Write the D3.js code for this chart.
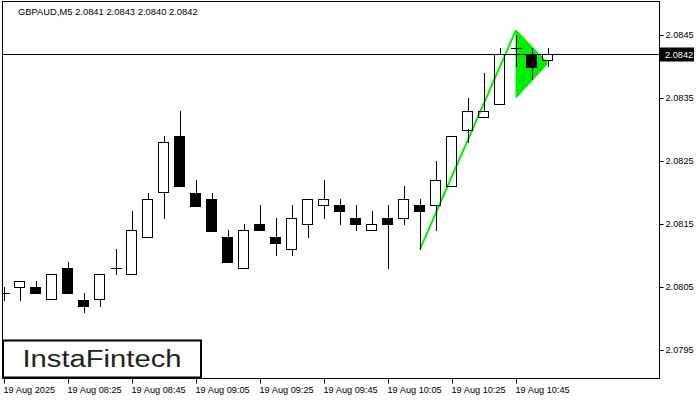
<!DOCTYPE html>
<html>
<head>
<meta charset="utf-8">
<script src="https://cdn.jsdelivr.net/npm/d3@7"></script>
<style>
  html, body { margin: 0; padding: 0; background: #fff; }
  svg { display: block; }
  text { font-family: "Liberation Sans", Arial, sans-serif; }
</style>
</head>
<body>
<svg id="chart" width="700" height="400"></svg>
<script>
// ---- data ----
const title = "GBPAUD,M5  2.0841 2.0843 2.0840 2.0842";
const opens  = [2.0804,2.0805,2.0805,2.0803,2.0808,2.0803,2.0803,2.0808,2.0807,2.0813,2.0820,2.0829,2.0820,2.0819,2.0813,2.0808,2.0815,2.0813,2.0811,2.0815,2.0818,2.0818,2.0816,2.0814,2.0816,2.0816,2.0818,2.0818,2.0821,2.0830,2.0832,2.0834,2.0843,2.0842,2.0841];
const highs  = [2.0805,2.0806,2.0806,2.0807,2.0809,2.0804,2.0807,2.0811,2.0817,2.0820,2.0829,2.0833,2.0822,2.0820,2.0814,2.0815,2.0818,2.0816,2.0818,2.0819,2.0822,2.0819,2.0818,2.0817,2.0818,2.0821,2.0819,2.0825,2.0829,2.0835,2.0839,2.0843,2.0845,2.0843,2.0843];
const lows   = [2.0803,2.0803,2.0804,2.0803,2.0804,2.0801,2.0802,2.0807,2.0807,2.0813,2.0816,2.0821,2.0818,2.0814,2.0809,2.0808,2.0814,2.0810,2.0810,2.0813,2.0816,2.0815,2.0814,2.0814,2.0808,2.0815,2.0811,2.0814,2.0821,2.0828,2.0832,2.0834,2.0840,2.0838,2.0840];
const closes = [2.0804,2.0806,2.0804,2.0807,2.0804,2.0802,2.0807,2.0808,2.0814,2.0819,2.0828,2.0821,2.0818,2.0814,2.0809,2.0814,2.0814,2.0812,2.0816,2.0819,2.0819,2.0817,2.0815,2.0815,2.0815,2.0819,2.0817,2.0822,2.0829,2.0833,2.0833,2.0842,2.0843,2.0840,2.0842];
const yTickValues = [2.0795, 2.0805, 2.0815, 2.0825, 2.0835, 2.0845];
const xTickIndex  = [0, 4, 8, 12, 16, 20, 24, 28, 32];
const xTickLabels = ["19 Aug 2025","19 Aug 08:25","19 Aug 08:45","19 Aug 09:05","19 Aug 09:25","19 Aug 09:45","19 Aug 10:05","19 Aug 10:25","19 Aug 10:45"];
const currentPrice = 2.0842;
// pennant pattern: pole and triangle (bar index, price)
const poleIdx    = [26, 32];
const polePrice  = [2.0811, 2.08458];
const triIdx     = [32, 32, 34];
const triPrice   = [2.08458, 2.0835, 2.08405];
const logoText = "InstaFintech";

// ---- layout ----
const svg = d3.select("#chart");
const plot = {left: 2.5, top: 1.5, right: 659.5, bottom: 378.5};

const x = d3.scaleLinear().domain([0, 34]).range([3.5, 3.5 + 16 * 34]);
const y = d3.scaleLinear().domain([2.0795, 2.0845]).range([350, 35]);

svg.append("defs").append("clipPath").attr("id", "plotclip")
  .append("rect").attr("x", plot.left).attr("y", plot.top)
  .attr("width", plot.right - plot.left).attr("height", plot.bottom - plot.top);

const g = svg.append("g").attr("clip-path", "url(#plotclip)");

// pennant (behind the bars)
const green = "#00ee00";
g.append("path")
  .attr("d", d3.line()(triIdx.map((d, k) => [x(d) + 0.5, y(triPrice[k])])) + "Z")
  .attr("fill", green).attr("stroke", green).attr("stroke-width", 1);
g.append("path")
  .attr("d", d3.line()(poleIdx.map((d, k) => [x(d) + 0.5, y(polePrice[k])])))
  .attr("fill", "none").attr("stroke", green).attr("stroke-width", 2);

// current price line
g.append("line")
  .attr("x1", plot.left).attr("x2", plot.right)
  .attr("y1", Math.round(y(currentPrice)) + 0.5).attr("y2", Math.round(y(currentPrice)) + 0.5)
  .attr("stroke", "#000").attr("stroke-width", 1);

const bars = opens.map((o, i) => ({i, o, h: highs[i], l: lows[i], c: closes[i]}));
const snap = v => Math.round(v) + 0.5;

// wicks (upper and lower parts, so hollow bodies stay clear)
const wickSeg = [];
bars.forEach(d => {
  wickSeg.push({i: d.i, a: d.h, b: Math.max(d.o, d.c)});
  wickSeg.push({i: d.i, a: Math.min(d.o, d.c), b: d.l});
});
g.selectAll("line.wick").data(wickSeg.filter(s => s.a > s.b)).enter().append("line")
  .attr("class", "wick")
  .attr("x1", d => x(d.i) + 0.5).attr("x2", d => x(d.i) + 0.5)
  .attr("y1", d => Math.round(y(d.a))).attr("y2", d => Math.round(y(d.b)) + 1)
  .attr("stroke", "#000").attr("stroke-width", 1).attr("shape-rendering", "crispEdges");

// bodies
g.selectAll("rect.body").data(bars.filter(d => d.o !== d.c)).enter().append("rect")
  .attr("class", "body")
  .attr("x", d => x(d.i) - 5)
  .attr("y", d => snap(y(Math.max(d.o, d.c))))
  .attr("width", 10)
  .attr("height", d => Math.max(1, Math.round(Math.abs(y(d.o) - y(d.c)))))
  .attr("fill", d => d.c > d.o ? "none" : "#000")
  .attr("stroke", "#000").attr("stroke-width", 1).attr("shape-rendering", "crispEdges");

// doji
g.selectAll("line.doji").data(bars.filter(d => d.o === d.c)).enter().append("line")
  .attr("class", "doji")
  .attr("x1", d => x(d.i) - 5).attr("x2", d => x(d.i) + 6)
  .attr("y1", d => snap(y(d.o))).attr("y2", d => snap(y(d.o)))
  .attr("stroke", "#000").attr("stroke-width", 1).attr("shape-rendering", "crispEdges");

// frame
svg.append("rect")
  .attr("x", plot.left).attr("y", plot.top)
  .attr("width", plot.right - plot.left).attr("height", plot.bottom - plot.top)
  .attr("fill", "none").attr("stroke", "#000").attr("stroke-width", 1);

// title
svg.append("text").attr("x", 18).attr("y", 15)
  .attr("font-size", 9.4).attr("fill", "#000").text(title);

// y axis
const yAxis = d3.axisRight(y).tickValues(yTickValues).tickSize(4).tickPadding(2)
  .tickFormat(d3.format(".4f"));
const ya = svg.append("g").attr("transform", `translate(${plot.right},0)`).call(yAxis);
ya.select(".domain").remove();
ya.selectAll("text").attr("font-size", 9.2).attr("font-family", "Liberation Sans, Arial, sans-serif").attr("fill", "#000");
ya.selectAll("line").attr("stroke", "#000");

// current price label
const cpY = Math.round(y(currentPrice)) + 0.5;
svg.append("rect").attr("x", 660).attr("y", cpY - 7).attr("width", 34).attr("height", 14).attr("fill", "#000");
svg.append("text").attr("x", 665).attr("y", cpY + 3.5)
  .attr("font-size", 9.2).attr("fill", "#fff").text(d3.format(".4f")(currentPrice));

// x axis
const xAxis = d3.axisBottom(x).tickValues(xTickIndex).tickSize(5).tickPadding(3)
  .tickFormat((d, k) => xTickLabels[k]);
const xa = svg.append("g").attr("transform", `translate(0.5,${plot.bottom})`).call(xAxis);
xa.select(".domain").remove();
xa.selectAll("text").attr("text-anchor", "start").attr("x", -1)
  .attr("font-size", 9.2).attr("font-family", "Liberation Sans, Arial, sans-serif").attr("fill", "#000");
xa.selectAll("line").attr("stroke", "#000");

// logo
svg.append("rect").attr("x", 3).attr("y", 340.5).attr("width", 198).attr("height", 37)
  .attr("fill", "#fff").attr("stroke", "#000").attr("stroke-width", 2);
svg.append("text").attr("x", 22.5).attr("y", 367)
  .attr("font-family", "Lato, 'Noto Sans', sans-serif").attr("font-size", 23).attr("font-weight", 500)
  .attr("fill", "#222").attr("textLength", 159).attr("lengthAdjust", "spacingAndGlyphs")
  .text(logoText);
</script>
</body>
</html>
